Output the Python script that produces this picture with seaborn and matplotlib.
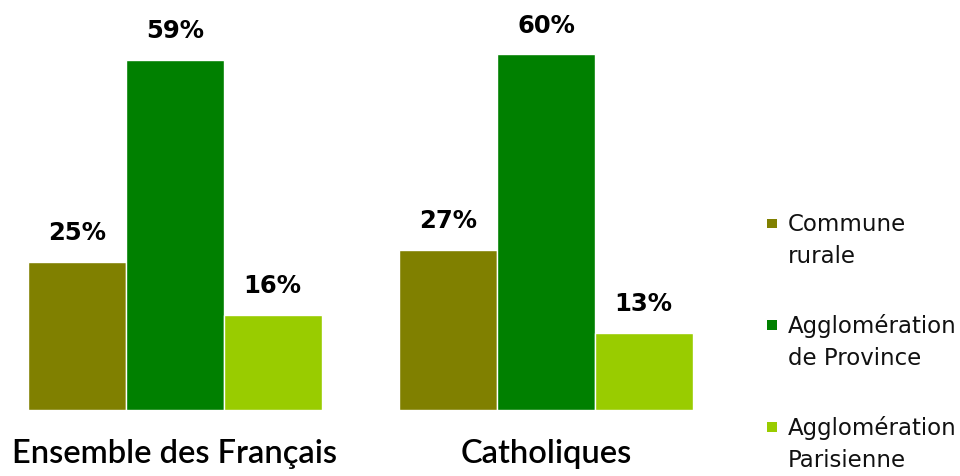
import matplotlib
matplotlib.use("Agg")
import matplotlib.pyplot as plt
import seaborn as sns
import pandas as pd
from matplotlib.patches import Rectangle, Patch
from matplotlib.legend_handler import HandlerBase

groups = ["Ensemble des Français", "Catholiques"]
types = ["Commune\nrurale", "Agglomération\nde Province", "Agglomération\nParisienne"]
commune_rurale = [25, 27]
agglo_province = [59, 60]
agglo_parisienne = [16, 13]
colors = ["#808000", "#008000", "#99CC00"]

rows = []
for t, vals in zip(types, [commune_rurale, agglo_province, agglo_parisienne]):
    for g, v in zip(groups, vals):
        rows.append({"group": g, "type": t, "value": v})
df = pd.DataFrame(rows)

sns.set_style("white")
plt.rcParams["font.family"] = ["DejaVu Sans"]

fig = plt.figure(figsize=(9.6, 4.76), dpi=100)
ax = fig.add_axes([0, 66 / 476, 720 / 960, 410 / 476])

sns.barplot(data=df, x="group", y="value", hue="type", palette=colors,
            saturation=1, width=0.79, edgecolor="white", linewidth=1,
            ax=ax, legend=False)

ax.set_xlim(-175 / 371, (720 - 175) / 371)
ax.set_ylim(0, 410 / 5.93)
for c in ax.containers:
    ax.bar_label(c, fmt="%g%%", padding=12, fontsize=17.5, fontweight="bold", color="black")

sns.despine(ax=ax, left=True, bottom=True)
ax.set_yticks([])
ax.set_xlabel("")
ax.set_ylabel("")
ax.tick_params(axis="x", length=0, pad=21)
for lab in ax.get_xticklabels():
    lab.set_fontfamily("Lato")
    lab.set_fontsize(23.5)
    lab.set_fontweight("semibold")
    lab.set_color("black")


class TopSquare(HandlerBase):
    def create_artists(self, legend, orig_handle, xdescent, ydescent, width, height, fontsize, trans):
        s = 0.42 * fontsize
        r = Rectangle((-xdescent + (width - s) / 2, -ydescent + (height - s) / 2 + 0.78 * fontsize),
                      s, s, facecolor=orig_handle.get_facecolor(), edgecolor="none", transform=trans)
        return [r]


handles = [Patch(facecolor=c) for c in colors]
leg = fig.legend(handles, types, loc="upper left", bbox_to_anchor=(765 / 960, 1 - 213 / 476),
                 frameon=False, fontsize=16.5, handlelength=0.6, handletextpad=0.4,
                 labelspacing=2.0, borderpad=0, borderaxespad=0,
                 handler_map={Patch: TopSquare()})
for t in leg.get_texts():
    t.set_linespacing(1.5)
    t.set_color("#111111")

fig.savefig("out.png", dpi=100)
